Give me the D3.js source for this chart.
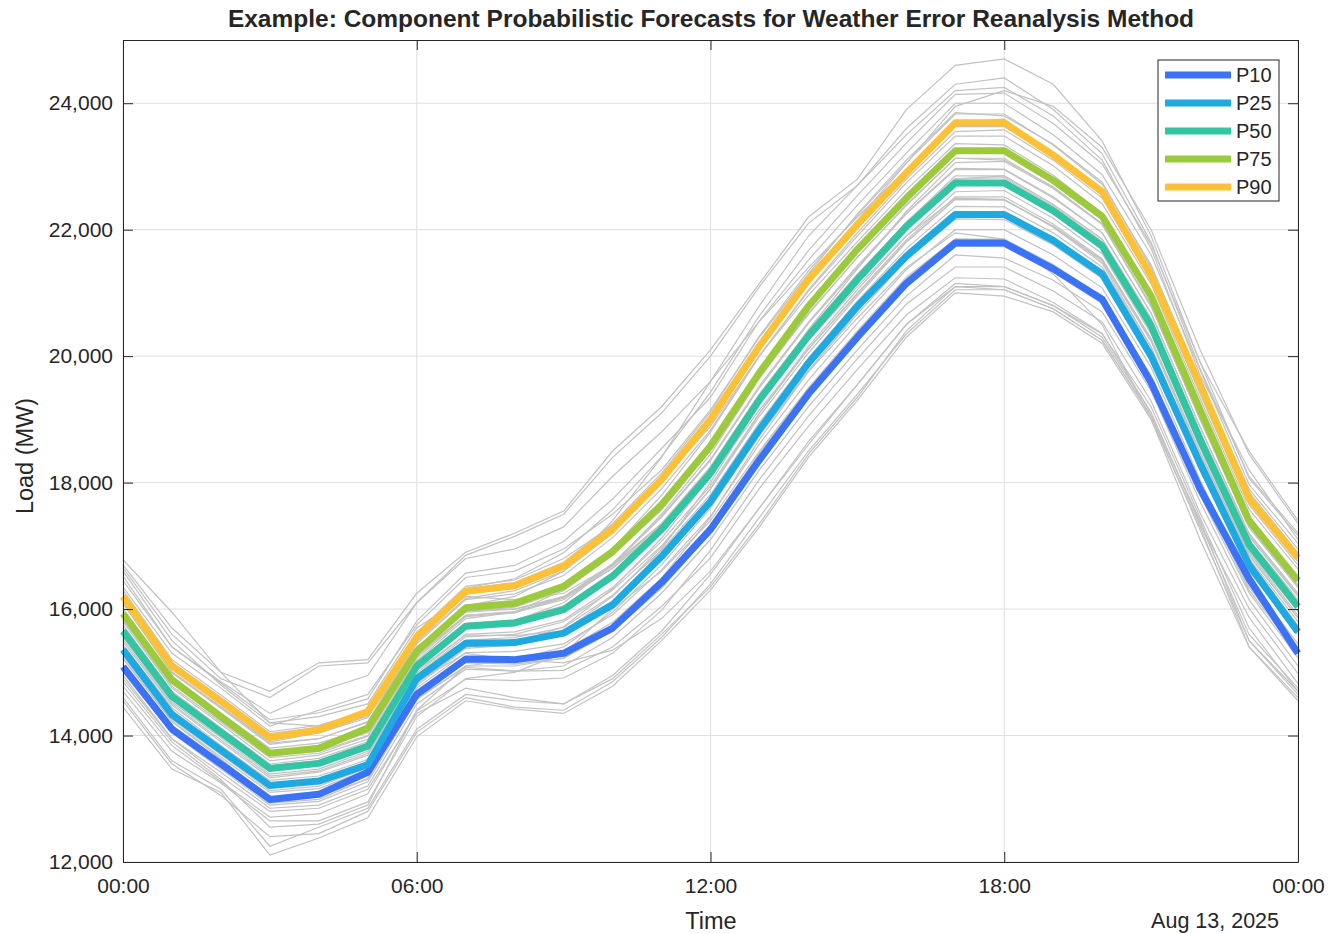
<!DOCTYPE html>
<html><head><meta charset="utf-8">
<script src="https://cdn.jsdelivr.net/npm/d3@7"></script>
<style>
body{margin:0;background:#fff;}
text{font-family:"Liberation Sans",Arial,Helvetica,sans-serif;fill:#262626;}
</style>
</head><body>
<svg id="chart" width="1331" height="934"></svg>
<script>
// ---------- data ----------
const hours = [0,1,2,3,4,5,6,7,8,9,10,11,12,13,14,15,16,17,18,19,20,21,22,23,24];
const seriesNames = ["P10","P25","P50","P75","P90"];
const p10 = [15090,14100,13550,12990,13070,13420,14650,15210,15200,15300,15700,16420,17260,18360,19400,20300,21150,21790,21790,21380,20900,19580,17900,16480,15300];
const p25 = [15360,14330,13770,13210,13280,13540,14900,15460,15470,15620,16070,16830,17700,18840,19890,20790,21580,22240,22240,21830,21300,20000,18300,16700,15640];
const p50 = [15650,14620,14050,13480,13560,13830,15100,15730,15780,15990,16520,17260,18150,19310,20320,21210,22050,22740,22740,22300,21740,20480,18680,17020,16040];
const p75 = [15930,14880,14300,13720,13800,14120,15330,16020,16090,16360,16910,17650,18580,19740,20790,21690,22500,23250,23250,22780,22210,20950,19150,17400,16450];
const p90 = [16200,15100,14540,13970,14090,14380,15560,16280,16370,16680,17260,18050,19000,20160,21210,22080,22900,23690,23690,23180,22600,21270,19550,17750,16810];
// ensemble members (gray)
const members = [
 [16780,15950,15000,14700,15150,15200,16250,16900,17200,17550,18500,19200,20100,21150,22200,22800,23900,24600,24700,24300,23400,21900,19900,18500,17400],
 [14450,13470,13100,12110,12380,12700,13980,14550,14420,14350,14780,15500,16300,17300,18400,19300,20300,21000,20950,20700,20200,19000,17300,15400,14600],
 [16520,15400,14830,14250,14360,14580,15810,16570,16690,17070,17740,18540,19350,20560,21520,22390,23210,24000,24000,23500,22870,21600,19780,17970,17040],
 [14780,13840,13270,12710,12760,13080,14390,14890,14870,14910,15300,15980,16930,18050,19050,19960,20820,21410,21410,21030,20540,19290,17520,16010,14980],
 [16300,15200,14640,14060,14160,14390,15630,16360,16460,16800,17320,18030,18890,20010,20960,21810,22630,23360,23340,22860,22260,20990,19180,17450,16510],
 [15000,14040,13470,12900,12960,13270,14570,15100,15100,15230,15720,16490,17450,18680,19760,20710,21600,22260,22270,21860,21320,20070,18280,16680,15670],
 [16090,15010,14450,13900,14040,14310,15570,16330,16480,16890,17570,18410,19430,20640,21670,22540,23370,24140,24160,23680,23040,21760,19910,18070,17160],
 [15220,14220,13630,13020,13040,13310,14600,15080,15020,15030,15400,16040,16810,17910,18890,19790,20650,21240,21220,20850,20360,19110,17350,15870,14820],
 [15850,14840,14230,13690,13750,14000,15300,15960,16030,16290,16850,17570,18510,19680,20660,21570,22380,23130,23100,22680,22090,20780,19020,17290,16350],
 [15430,14440,13840,13290,13360,13620,14930,15510,15550,15710,16220,16930,17810,18950,19970,20870,21700,22370,22360,21950,21410,20140,18370,16730,15740],
 [16650,15600,14900,14600,15100,15150,16100,16800,16950,17300,18100,18800,19600,20550,21400,22200,22950,23700,23750,23200,22600,21300,19550,17800,16800],
 [14600,13600,13150,12250,12550,12850,14100,14650,14550,14500,14950,15650,16550,17600,18650,19550,20500,21100,21100,20800,20350,19200,17450,15700,14700],
 [16170,15090,14520,13940,14040,14280,15530,16240,16330,16640,17250,18030,18970,20150,21170,22040,22870,23630,23630,23150,22540,21270,19460,17700,16750],
 [15130,14150,13580,13020,13080,13380,14680,15230,15230,15340,15790,16490,17330,18470,19480,20380,21230,21850,21850,21450,20940,19690,17910,16350,15330],
 [15700,14580,14100,13450,13600,13800,15150,15700,15820,15950,16560,17220,18200,19270,20350,21180,22090,22700,22780,22260,21770,20450,18720,16980,16080],
 [16000,14930,14350,13800,13880,14120,15350,15990,16000,16180,16640,17300,18100,19150,20110,20980,21810,22480,22470,22060,21520,20260,18470,16850,15860],
 [15300,14300,13740,13180,13240,13530,14830,15400,15460,15720,16320,17120,18090,19340,20420,21380,22290,23060,23080,22650,22080,20810,19000,17290,16340],
 [16350,15300,14750,14150,14400,14650,15750,16500,16600,16950,17500,18200,19150,20300,21300,22250,23100,23850,23800,23350,22750,21400,19600,17900,16950],
 [14950,13950,13420,12850,12900,13200,14500,15050,15020,15100,15550,16250,17100,18200,19200,20100,20950,21600,21550,21200,20700,19450,17700,16150,15100],
 [15800,14750,14180,13600,13690,13940,15220,15880,15940,16180,16720,17470,18370,19530,20540,21430,22260,22970,22960,22520,21950,20680,18880,17180,16220],
 [15520,14500,13930,13360,13440,13720,14990,15600,15640,15830,16340,17070,17950,19100,20110,21000,21840,22520,22520,22090,21540,20280,18490,16860,15860],
 [16090,14990,14430,13860,13950,14210,15450,16150,16240,16530,17130,17900,18830,20010,21030,21900,22740,23480,23480,23010,22410,21140,19330,17580,16630],
 [15220,14230,13660,13100,13160,13460,14750,15310,15330,15450,15910,16620,17470,18610,19620,20520,21370,22000,22000,21600,21080,19820,18040,16460,15450],
 [15900,14850,14300,13700,13800,14050,15350,16050,16200,16600,17400,18400,19600,20800,21900,22700,23600,24300,24400,23900,23200,21800,19800,18100,17200],
 [15400,14400,13800,13250,13300,13550,14850,15300,15200,15150,15350,15850,16600,17600,18600,19550,20500,21150,21100,20800,20300,19100,17350,15600,14750],
 [15950,14890,14320,13750,13840,14090,15350,16020,16100,16370,16950,17710,18630,19800,20810,21700,22530,23260,23260,22790,22210,20940,19130,17410,16450],
 [15350,14350,13780,13210,13280,13570,14850,15440,15460,15610,16090,16810,17670,18820,19830,20720,21570,22220,22220,21810,21270,20020,18230,16630,15630],
 [16600,15500,14800,14200,14300,14500,15700,16200,16150,16250,16700,17350,18250,19400,20400,21300,22100,22800,22850,22400,21850,20550,18800,17100,16150],
 [14700,13750,13250,12650,12650,12950,14300,14900,15000,15300,16000,16950,18000,19250,20300,21250,22100,22750,22700,22250,21700,20400,18550,16900,15900],
 [16450,15400,14850,14350,14700,14950,16100,16850,17150,17500,18400,19100,20000,21100,22100,22700,23500,24200,24250,23800,23100,21700,19700,18200,17100],
 [14550,13550,13050,12400,12450,12800,14050,14600,14450,14400,14850,15550,16400,17450,18500,19400,20350,21050,21050,20750,20250,19050,17400,15500,14650],
 [15700,14660,14080,13520,13600,13880,15130,15770,15830,16050,16580,17330,18210,19380,20390,21280,22120,22810,22820,22370,21810,20550,18750,17080,16100],
 [15920,14850,14280,13720,13780,14050,15280,15900,15950,16150,16650,17350,18250,19400,20400,21280,22120,22850,22850,22400,21850,20600,18800,17150,16200],
 [15480,14480,13900,13330,13420,13690,14960,15560,15600,15800,16300,17000,17900,19050,20050,20950,21800,22480,22470,22050,21500,20230,18430,16800,15800],
 [15050,14060,13500,12930,12990,13320,14620,15150,15130,15220,15650,16330,17200,18330,19350,20250,21100,21740,21730,21330,20830,19560,17800,16260,15230],
 [16250,15160,14600,14030,14130,14360,15600,16320,16420,16740,17350,18150,19120,20320,21350,22230,23060,23830,23830,23340,22720,21440,19620,17850,16890],
 [15750,14700,14120,13550,13640,13900,15180,15850,15950,16300,16950,17800,18800,20000,21050,21950,22800,23550,23580,23100,22500,21200,19400,17650,16700],
 [15560,14530,13970,13390,13470,13750,15030,15590,15580,15650,16000,16600,17400,18500,19500,20400,21250,21850,21830,21420,20920,19670,17900,16300,15300],
 [14850,13900,13300,12550,12600,12900,14400,15100,15200,15400,15950,16700,17600,18750,19770,20670,21520,22170,22160,21760,21230,19980,18200,16600,15600],
 [16700,15700,15000,14200,14150,14300,15400,15950,16000,16200,16700,17450,18350,19500,20520,21400,22250,22950,22950,22500,21950,20680,18880,17200,16250],
 [15640,14630,14030,13490,13570,13820,15090,15750,15820,16100,16700,17500,18450,19650,20680,21560,22400,23130,23130,22660,22090,20800,19000,17320,16380],
 [15260,14260,13700,13130,13200,13490,14790,15380,15430,15650,16200,16980,17900,19100,20150,21050,21900,22600,22620,22180,21620,20350,18560,16920,15960],
 [15830,14780,14210,13650,13720,13990,15250,15900,15960,16180,16680,17350,18200,19300,20250,21100,21900,22500,22480,22040,21470,20150,18300,16650,15650],
 [14900,13950,13350,12800,12850,13150,14350,14750,14600,14500,14900,15600,16350,17350,18450,19350,20400,21100,21050,20750,20250,19050,17250,15500,14700],
 [16100,15000,14450,13880,13950,14220,15480,16170,16290,16600,17200,18000,18950,20150,21250,22150,23050,23950,24200,23950,23300,22000,20100,18450,17350],
 [15300,14300,13750,13200,13280,13550,14820,15400,15450,15600,16100,16800,17650,18750,19750,20600,21400,21950,21850,21300,20500,19000,17100,15400,14550]
];
const yTicks = [12000,14000,16000,18000,20000,22000,24000];
const xTickHours = [0,6,12,18,24];
const xTickLabels = ["00:00","06:00","12:00","18:00","00:00"];
const titleText = "Example: Component Probabilistic Forecasts for Weather Error Reanalysis Method";
const xLabel = "Time", yLabel = "Load (MW)", dateLabel = "Aug 13, 2025";
const colors = ["#3b72f6","#1fa9e1","#33c4a3","#9dc93d","#fcc137"];

// ---------- layout ----------
const L = 123, R = 1298, T = 40, B = 862;
const svg = d3.select("#chart");
const toDate = h => new Date(2025, 7, 13, h);
const x = d3.scaleTime().domain([toDate(0), toDate(24)]).range([L, R]);
const y = d3.scaleLinear().domain([12000, 25000]).range([B, T]);

// grid
const grid = svg.append("g");
grid.selectAll(".gx").data(xTickHours).join("line")
  .attr("x1", d => x(toDate(d))).attr("x2", d => x(toDate(d)))
  .attr("y1", T).attr("y2", B).attr("stroke", "#dfdfdf").attr("stroke-width", 1);
grid.selectAll(".gy").data(yTicks).join("line")
  .attr("x1", L).attr("x2", R)
  .attr("y1", d => y(d)).attr("y2", d => y(d)).attr("stroke", "#dfdfdf").attr("stroke-width", 1);

// lines
const line = d3.line().x((d, i) => x(toDate(hours[i]))).y(d => y(d));
svg.append("g").selectAll("path").data(members).join("path")
  .attr("d", line).attr("fill", "none").attr("stroke", "#c2c2c2").attr("stroke-width", 1.2);
const pct = [p10, p25, p50, p75, p90];
svg.append("g").selectAll("path").data(pct).join("path")
  .attr("d", line).attr("fill", "none").attr("stroke", (d, i) => colors[i])
  .attr("stroke-width", 7).attr("stroke-linejoin", "round");

// axes
const xTickVals = xTickHours.map(toDate);
const axStyle = g => {
  g.selectAll(".domain").attr("stroke", "#262626").attr("stroke-width", 1);
  g.selectAll(".tick line").attr("stroke", "#262626");
  g.selectAll("text").attr("fill", "#262626").style("font-size", "21px")
    .style("font-family", "'Liberation Sans', Arial, sans-serif");
};
svg.append("g").attr("transform", `translate(0,${B})`)
  .call(d3.axisBottom(x).tickValues(xTickVals).tickFormat((d, i) => xTickLabels[i])
    .tickSizeInner(-10).tickSizeOuter(0).tickPadding(16)).call(axStyle);
svg.append("g").attr("transform", `translate(0,${T})`)
  .call(d3.axisTop(x).tickValues(xTickVals).tickFormat("").tickSizeInner(-10).tickSizeOuter(0)).call(axStyle);
svg.append("g").attr("transform", `translate(${L},0)`)
  .call(d3.axisLeft(y).tickValues(yTicks).tickFormat(d3.format(","))
    .tickSizeInner(-10).tickSizeOuter(0).tickPadding(10)).call(axStyle);
svg.append("g").attr("transform", `translate(${R},0)`)
  .call(d3.axisRight(y).tickValues(yTicks).tickFormat("").tickSizeInner(-10).tickSizeOuter(0)).call(axStyle);

// labels
svg.append("text").attr("x", 711).attr("y", 27).attr("text-anchor", "middle")
  .style("font-size", "24.5px").style("font-weight", "bold").text(titleText);
svg.append("text").attr("x", 711).attr("y", 929).attr("text-anchor", "middle")
  .style("font-size", "23.5px").text(xLabel);
svg.append("text").attr("x", 1279).attr("y", 928).attr("text-anchor", "end")
  .style("font-size", "21.5px").text(dateLabel);
svg.append("text").attr("transform", `translate(33,${(T + B) / 2 + 5}) rotate(-90)`)
  .attr("text-anchor", "middle").style("font-size", "23.5px").text(yLabel);

// legend
const lg = svg.append("g").attr("transform", "translate(1158,60)");
lg.append("rect").attr("width", 121).attr("height", 141).attr("fill", "#fff")
  .attr("stroke", "#262626").attr("stroke-width", 1);
const items = lg.selectAll(".it").data(seriesNames).join("g")
  .attr("transform", (d, i) => `translate(0,${15 + i * 28})`);
items.append("line").attr("x1", 7).attr("x2", 73).attr("y1", 0).attr("y2", 0)
  .attr("stroke", (d, i) => colors[i]).attr("stroke-width", 7);
items.append("text").attr("x", 78).attr("y", 7).style("font-size", "20px").text(d => d);
</script>
</body></html>
